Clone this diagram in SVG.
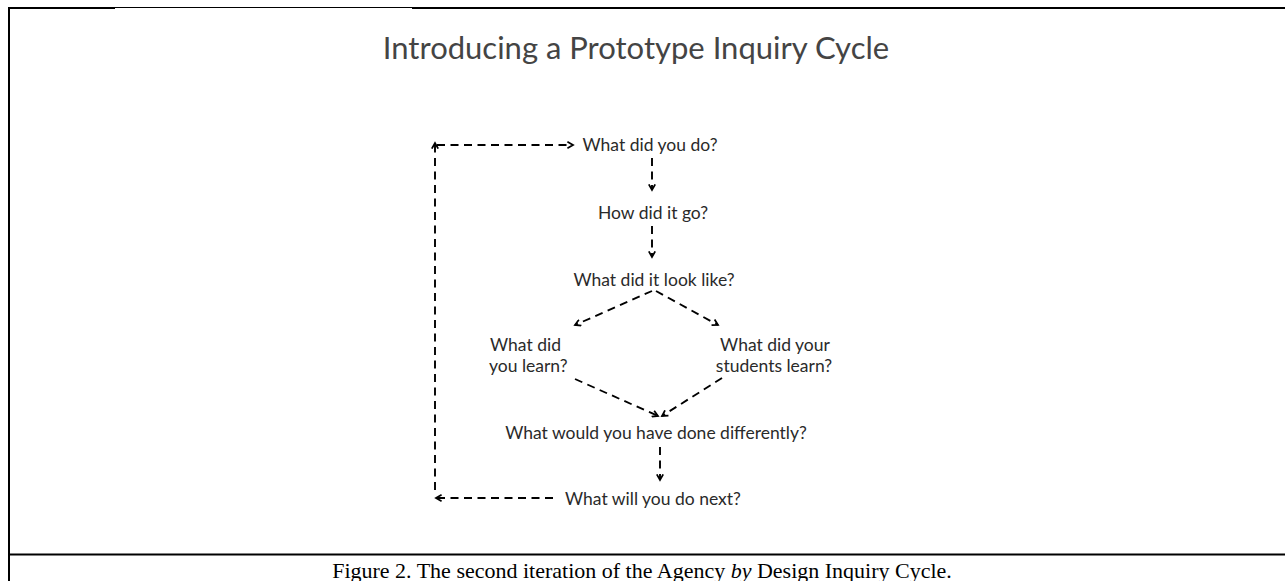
<svg xmlns="http://www.w3.org/2000/svg" width="1285" height="581" viewBox="0 0 1285 581">
<style>
.frame{stroke:#000;fill:none}
.lbl{font-family:Lato,"Open Sans",sans-serif;font-size:17.5px;fill:#2a2a2a}
.title{font-family:Lato,"Open Sans",sans-serif;font-size:31px;fill:#444}
.cap{font-family:"Liberation Serif",serif;font-size:22px;fill:#000}
.c{stroke:#000;stroke-width:1.9;fill:none;stroke-dasharray:8,5.5}
</style>
<defs>
<marker id="ah" viewBox="0 0 10 10" refX="8" refY="5" markerWidth="8" markerHeight="8" markerUnits="userSpaceOnUse" orient="auto">
<path d="M1,1 L8,5 L1,9" stroke="#000" stroke-width="2.2" fill="none"/>
</marker>
</defs>
<rect width="1285" height="581" fill="#fff"/>
<g id="frame">
<line class="frame" x1="9" y1="8" x2="115" y2="8" stroke-width="2.2"/>
<line class="frame" x1="115" y1="7.5" x2="412" y2="7.5" stroke-width="1.2"/>
<line class="frame" x1="412" y1="8" x2="1285" y2="8" stroke-width="2.2"/>
<line class="frame" x1="9" y1="7" x2="9" y2="581" stroke-width="2"/>
<line class="frame" x1="9" y1="554.5" x2="1285" y2="554.5" stroke-width="2.2"/>
</g>
<text id="title" class="title" x="636" y="59" text-anchor="middle">Introducing a Prototype Inquiry Cycle</text>
<g id="n1"><text class="lbl" x="650" y="151" text-anchor="middle">What did you do?</text></g>
<g id="n2"><text class="lbl" x="653" y="219" text-anchor="middle">How did it go?</text></g>
<g id="n3"><text class="lbl" x="654" y="286" text-anchor="middle">What did it look like?</text></g>
<g id="n4"><text class="lbl" x="490" y="351">What did</text><text class="lbl" x="489" y="372">you learn?</text></g>
<g id="n5"><text class="lbl" x="775" y="351" text-anchor="middle">What did your</text><text class="lbl" x="774" y="372" text-anchor="middle">students learn?</text></g>
<g id="n6"><text class="lbl" x="656" y="439" text-anchor="middle">What would you have done differently?</text></g>
<g id="n7"><text class="lbl" x="653" y="505" text-anchor="middle">What will you do next?</text></g>
<g id="connectors">
<path class="c" d="M437,145 L573,145" marker-end="url(#ah)"/>
<path class="c" d="M652,158 L652,190" marker-end="url(#ah)"/>
<path class="c" d="M652,226 L652,257" marker-end="url(#ah)"/>
<path class="c" d="M652,291 L575,325" marker-end="url(#ah)"/>
<path class="c" d="M656,291 L718,325" marker-end="url(#ah)"/>
<path class="c" d="M575,379 L658,416" marker-end="url(#ah)"/>
<path class="c" d="M722,378 L662,416" marker-end="url(#ah)"/>
<path class="c" d="M660,447 L660,480" marker-end="url(#ah)"/>
<path class="c" d="M553,498 L436,498" marker-end="url(#ah)"/>
<path class="c" d="M435,490 L435,143" marker-end="url(#ah)"/>
</g>
<text id="caption" class="cap" x="642" y="578" text-anchor="middle">Figure 2. The second iteration of the Agency <tspan font-style="italic">by</tspan> Design Inquiry Cycle.</text>
</svg>
